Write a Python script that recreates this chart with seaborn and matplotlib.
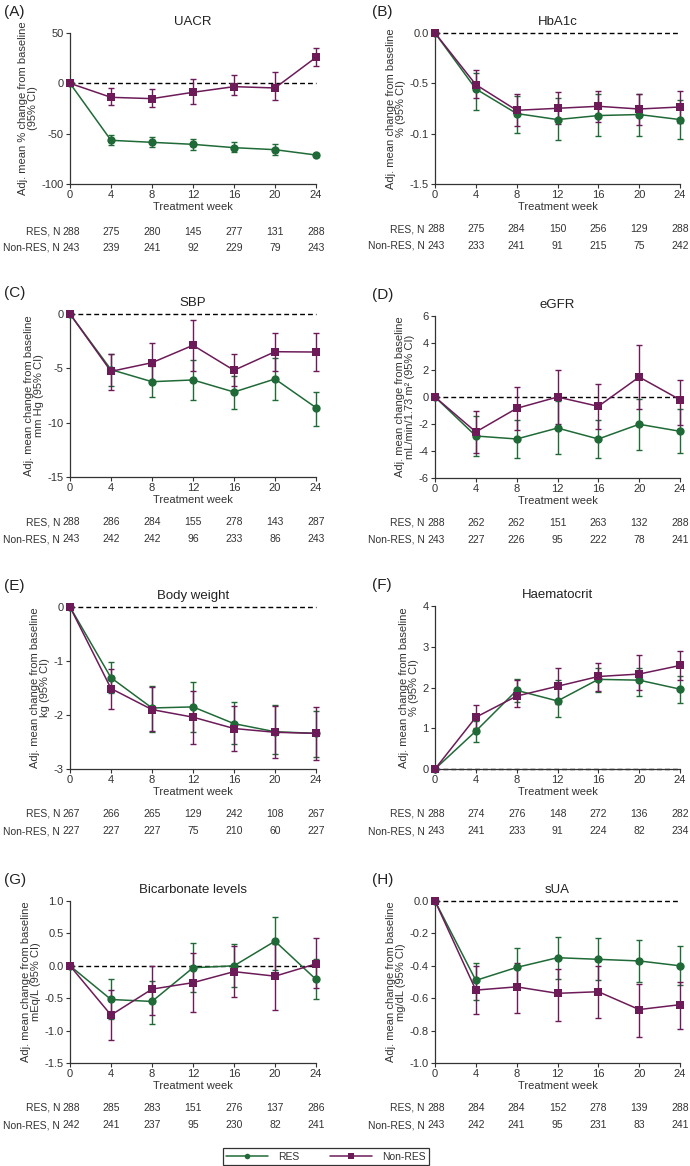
import numpy as np
import pandas as pd
import matplotlib
matplotlib.use("Agg")
import matplotlib.pyplot as plt
from matplotlib.lines import Line2D
import seaborn as sns

sns.set_theme(style="ticks")
plt.rcParams['font.family'] = ['Liberation Sans', 'DejaVu Sans']

weeks = [0, 4, 8, 12, 16, 20, 24]
groups = ["RES", "Non-RES"]

# ---------------- data ----------------
uacr_res = [0, -56.6, -58.6, -60.6, -63.9, -65.9, -71.2]
uacr_res_lo = [0, -61.6, -63.6, -66.0, -68.2, -70.9, -73.5]
uacr_res_hi = [0, -51.7, -53.6, -55.0, -58.6, -60.3, -69.0]
uacr_non = [0, -13.9, -15.2, -8.9, -3.3, -4.6, 25.8]
uacr_non_lo = [0, -21.5, -23.5, -20.5, -11.9, -16.9, 17.2]
uacr_non_hi = [0, -5.0, -5.6, 4.3, 8.3, 11.6, 35.1]

hba_res = [0, -0.556, -0.80, -0.86, -0.82, -0.81, -0.86]
hba_res_lo = [0, -0.76, -0.99, -1.06, -1.02, -1.02, -1.05]
hba_res_hi = [0, -0.40, -0.63, -0.65, -0.61, -0.61, -0.67]
hba_non = [0, -0.513, -0.768, -0.748, -0.728, -0.755, -0.735]
hba_non_lo = [0, -0.65, -0.92, -0.90, -0.88, -0.91, -0.89]
hba_non_hi = [0, -0.37, -0.61, -0.59, -0.58, -0.61, -0.58]

sbp_res = [0, -5.12, -6.23, -6.07, -7.18, -5.98, -8.62]
sbp_res_lo = [0, -6.65, -7.67, -7.88, -8.71, -7.88, -10.28]
sbp_res_hi = [0, -3.70, -4.75, -4.26, -5.67, -4.05, -7.18]
sbp_non = [0, -5.28, -4.48, -2.88, -5.18, -3.47, -3.50]
sbp_non_lo = [0, -6.96, -6.23, -5.28, -6.66, -5.28, -5.28]
sbp_non_hi = [0, -3.70, -2.67, -0.52, -3.68, -1.72, -1.75]

egfr_res = [0, -2.89, -3.11, -2.30, -3.11, -2.02, -2.54]
egfr_res_lo = [0, -4.37, -4.49, -4.20, -4.49, -3.90, -4.15]
egfr_res_hi = [0, -1.43, -1.73, -0.32, -1.73, -0.12, -0.86]
egfr_non = [0, -2.59, -0.84, 0.0, -0.69, 1.48, -0.20]
egfr_non_lo = [0, -4.15, -2.42, -2.02, -2.35, -0.86, -2.05]
egfr_non_hi = [0, -1.06, 0.74, 2.02, 0.99, 3.88, 1.23]

bw_res = [0, -1.31, -1.87, -1.85, -2.16, -2.31, -2.34]
bw_res_lo = [0, -1.59, -2.31, -2.32, -2.54, -2.73, -2.77]
bw_res_hi = [0, -1.02, -1.47, -1.39, -1.75, -1.81, -1.92]
bw_non = [0, -1.51, -1.90, -2.04, -2.25, -2.32, -2.34]
bw_non_lo = [0, -1.88, -2.29, -2.53, -2.66, -2.80, -2.83]
bw_non_hi = [0, -1.14, -1.48, -1.55, -1.84, -1.83, -1.86]

hct_res = [0, 0.93, 1.93, 1.67, 2.20, 2.18, 1.96]
hct_res_lo = [0, 0.67, 1.65, 1.28, 1.89, 1.80, 1.63]
hct_res_hi = [0, 1.18, 2.22, 2.18, 2.49, 2.49, 2.28]
hct_non = [0, 1.27, 1.79, 2.03, 2.27, 2.33, 2.54]
hct_non_lo = [0, 1.00, 1.51, 1.59, 1.91, 1.93, 2.18]
hct_non_hi = [0, 1.56, 2.18, 2.47, 2.61, 2.79, 2.90]

bic_res = [0, -0.52, -0.55, -0.03, 0.0, 0.38, -0.21]
bic_res_lo = [0, -0.82, -0.90, -0.40, -0.33, -0.07, -0.51]
bic_res_hi = [0, -0.21, -0.23, 0.35, 0.33, 0.75, 0.10]
bic_non = [0, -0.76, -0.36, -0.26, -0.09, -0.16, 0.03]
bic_non_lo = [0, -1.15, -0.76, -0.72, -0.48, -0.68, -0.34]
bic_non_hi = [0, -0.38, 0.0, 0.20, 0.31, 0.33, 0.43]

sua_res = [0, -0.49, -0.41, -0.35, -0.36, -0.37, -0.40]
sua_res_lo = [0, -0.61, -0.53, -0.48, -0.49, -0.50, -0.52]
sua_res_hi = [0, -0.38, -0.29, -0.22, -0.23, -0.24, -0.28]
sua_non = [0, -0.55, -0.53, -0.57, -0.56, -0.67, -0.64]
sua_non_lo = [0, -0.70, -0.69, -0.74, -0.72, -0.84, -0.79]
sua_non_hi = [0, -0.40, -0.38, -0.42, -0.40, -0.51, -0.50]

n_res = {
    "A": [288, 275, 280, 145, 277, 131, 288],
    "B": [288, 275, 284, 150, 256, 129, 288],
    "C": [288, 286, 284, 155, 278, 143, 287],
    "D": [288, 262, 262, 151, 263, 132, 288],
    "E": [267, 266, 265, 129, 242, 108, 267],
    "F": [288, 274, 276, 148, 272, 136, 282],
    "G": [288, 285, 283, 151, 276, 137, 286],
    "H": [288, 284, 284, 152, 278, 139, 288],
}
n_non = {
    "A": [243, 239, 241, 92, 229, 79, 243],
    "B": [243, 233, 241, 91, 215, 75, 242],
    "C": [243, 242, 242, 96, 233, 86, 243],
    "D": [243, 227, 226, 95, 222, 78, 241],
    "E": [227, 227, 227, 75, 210, 60, 227],
    "F": [243, 241, 233, 91, 224, 82, 234],
    "G": [242, 241, 237, 95, 230, 82, 241],
    "H": [243, 242, 241, 95, 231, 83, 241],
}

titles = {"A": "UACR", "B": "HbA1c", "C": "SBP", "D": "eGFR",
          "E": "Body weight", "F": "Haematocrit", "G": "Bicarbonate levels", "H": "sUA"}
units = {"A": "Adj. mean % change from baseline\n(95% CI)",
         "B": "Adj. mean change from baseline\n% (95% CI)",
         "C": "Adj. mean change from baseline\nmm Hg (95% CI)",
         "D": "Adj. mean change from baseline\nmL/min/1.73 m\u00b2 (95% CI)",
         "E": "Adj. mean change from baseline\nkg (95% CI)",
         "F": "Adj. mean change from baseline\n% (95% CI)",
         "G": "Adj. mean change from baseline\nmEq/L (95% CI)",
         "H": "Adj. mean change from baseline\nmg/dL (95% CI)"}
yticks = {"A": [-100, -50, 0, 50], "B": [-1.5, -1.0, -0.5, 0.0],
          "C": [-15, -10, -5, 0], "D": [-6, -4, -2, 0, 2, 4, 6],
          "E": [-3, -2, -1, 0], "F": [0, 1, 2, 3, 4],
          "G": [-1.5, -1.0, -0.5, 0.0, 0.5, 1.0], "H": [-1.0, -0.8, -0.6, -0.4, -0.2, 0.0]}
ytick_labels = {"A": ["-100", "-50", "0", "50"], "B": ["-1.5", "-0.1", "-0.5", "0.0"],
                "C": ["-15", "-10", "-5", "0"], "D": ["-6", "-4", "-2", "0", "2", "4", "6"],
                "E": ["-3", "-2", "-1", "0"], "F": ["0", "1", "2", "3", "4"],
                "G": ["-1.5", "-1.0", "-0.5", "0.0", "0.5", "1.0"],
                "H": ["-1.0", "-0.8", "-0.6", "-0.4", "-0.2", "0.0"]}

series = {
    "A": (uacr_res, uacr_res_lo, uacr_res_hi, uacr_non, uacr_non_lo, uacr_non_hi),
    "B": (hba_res, hba_res_lo, hba_res_hi, hba_non, hba_non_lo, hba_non_hi),
    "C": (sbp_res, sbp_res_lo, sbp_res_hi, sbp_non, sbp_non_lo, sbp_non_hi),
    "D": (egfr_res, egfr_res_lo, egfr_res_hi, egfr_non, egfr_non_lo, egfr_non_hi),
    "E": (bw_res, bw_res_lo, bw_res_hi, bw_non, bw_non_lo, bw_non_hi),
    "F": (hct_res, hct_res_lo, hct_res_hi, hct_non, hct_non_lo, hct_non_hi),
    "G": (bic_res, bic_res_lo, bic_res_hi, bic_non, bic_non_lo, bic_non_hi),
    "H": (sua_res, sua_res_lo, sua_res_hi, sua_non, sua_non_lo, sua_non_hi),
}

GREEN = "#1f6a37"
PURPLE = "#6c1b58"
palette = {"RES": GREEN, "Non-RES": PURPLE}
markers = {"RES": "o", "Non-RES": "s"}

W, H = 690, 1166
fig = plt.figure(figsize=(W / 100, H / 100), dpi=100)

# axes boxes in pixels: left, right, top, bottom
boxes = {
    "A": (70, 316, 33, 184), "B": (435, 680, 33, 184),
    "C": (70, 316, 314, 477), "D": (435, 680, 316, 478),
    "E": (70, 316, 607, 769), "F": (435, 680, 606, 769),
    "G": (70, 316, 901, 1063), "H": (435, 680, 901, 1063),
}
letter_x = {"A": 4, "B": 372, "C": 4, "D": 372, "E": 4, "F": 372, "G": 4, "H": 372}
table_off = {"A": (48, 64)}

text_col = "#333333"
for key, (l, r, t, b) in boxes.items():
    ax = fig.add_axes([l / W, 1 - b / H, (r - l) / W, (b - t) / H])
    res, res_lo, res_hi, non, non_lo, non_hi = series[key]
    df = pd.DataFrame({
        "week": weeks * 2,
        "value": list(res) + list(non),
        "group": ["RES"] * len(weeks) + ["Non-RES"] * len(weeks),
    })
    ax.axhline(0, color="black", lw=1.0, ls=(0, (3.5, 2.2)), zorder=1, clip_on=False)
    for g, m, lo, hi in (("RES", res, res_lo, res_hi), ("Non-RES", non, non_lo, non_hi)):
        m = np.array(m); lo = np.array(lo); hi = np.array(hi)
        ax.errorbar(weeks[1:], m[1:], yerr=[m[1:] - lo[1:], hi[1:] - m[1:]],
                    fmt="none", ecolor=palette[g], elinewidth=1.0, capsize=2.2,
                    capthick=1.0, zorder=3, clip_on=False)
    sns.lineplot(data=df, x="week", y="value", hue="group", style="group",
                 palette=palette, markers=markers, dashes=False, markersize=6,
                 markeredgewidth=0, linewidth=1.1, legend=False, ax=ax,
                 zorder=4, clip_on=False)
    yt = yticks[key]
    ax.set_xlim(0, 24)
    ax.set_ylim(min(yt), max(yt))
    ax.set_xticks(weeks)
    ax.set_xticklabels([str(w) for w in weeks], fontsize=8, color=text_col)
    ax.set_yticks(yt)
    ax.set_yticklabels(ytick_labels[key], fontsize=8, color=text_col)
    ax.tick_params(axis="both", length=3, width=0.8, color="#333333", pad=1.5)
    for s in ("top", "right"):
        ax.spines[s].set_visible(False)
    for s in ("left", "bottom"):
        ax.spines[s].set_color("#333333")
        ax.spines[s].set_linewidth(0.9)
    ax.set_xlabel("Treatment week", fontsize=8, color=text_col, labelpad=1)
    ax.set_ylabel(units[key], fontsize=8, color=text_col, labelpad=2.5, linespacing=1.05)
    ax.set_title(titles[key], fontsize=9.5, color="#222222", pad=6)
    fig.text(letter_x[key] / W, 1 - (t - 21) / H, f"({key})", fontsize=11,
             color="#222222", ha="left", va="center")
    # N tables
    o1, o2 = table_off.get(key, (45, 62))
    ax.annotate("RES, N", xy=(0, 0), xycoords=("data", "axes fraction"),
                xytext=(-10, -o1), textcoords="offset pixels", ha="right",
                va="center", fontsize=7.5, color=text_col)
    ax.annotate("Non-RES, N", xy=(0, 0), xycoords=("data", "axes fraction"),
                xytext=(-10, -o2), textcoords="offset pixels", ha="right",
                va="center", fontsize=7.5, color=text_col)
    for w, nr, nn in zip(weeks, n_res[key], n_non[key]):
        ax.annotate(str(nr), xy=(w, 0), xycoords=("data", "axes fraction"),
                    xytext=(1 if w == 0 else 0, -o1), textcoords="offset pixels",
                    ha="center", va="center", fontsize=7.5, color=text_col)
        ax.annotate(str(nn), xy=(w, 0), xycoords=("data", "axes fraction"),
                    xytext=(1 if w == 0 else 0, -o2), textcoords="offset pixels",
                    ha="center", va="center", fontsize=7.5, color=text_col)

handles = [Line2D([], [], color=palette[g], marker=markers[g], markersize=4,
                  markeredgewidth=0, lw=1.1, label=g) for g in groups]
leg = fig.legend(handles=handles, loc="center", bbox_to_anchor=(326 / W, 1 - 1156.5 / H),
                 ncol=2, frameon=True, fancybox=False, fontsize=7.5,
                 handlelength=4.0, columnspacing=3.0, borderpad=0.3,
                 handletextpad=1.0)
leg.get_frame().set_edgecolor("black")
leg.get_frame().set_linewidth(0.9)
for txt in leg.get_texts():
    txt.set_color(text_col)

fig.savefig("out.png", dpi=100, facecolor="white")
